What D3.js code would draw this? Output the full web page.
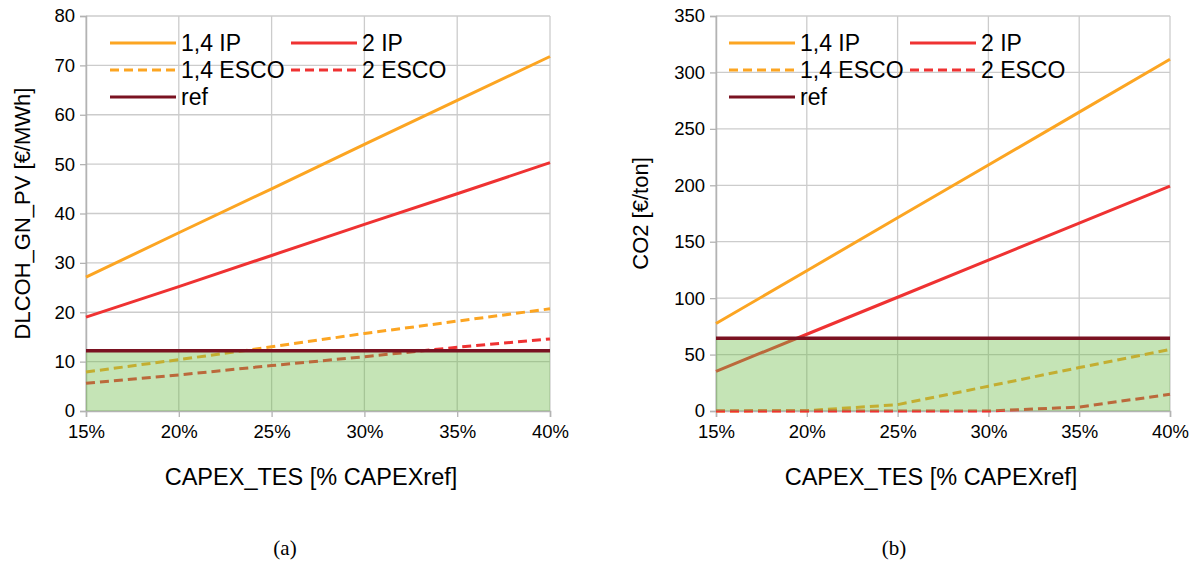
<!DOCTYPE html>
<html>
<head>
<meta charset="utf-8">
<script src="https://cdn.jsdelivr.net/npm/d3@7"></script>
<style>
  body { margin: 0; background: #fff; }
  svg { display: block; }
  text { font-family: "Liberation Sans", Arial, sans-serif; fill: #000; }
</style>
</head>
<body>
<div id="chart"></div>
<script>
// ------------------------------------
// Data
// ------------------------------------
const capexTes = [15, 20, 25, 30, 35, 40];          // % CAPEXref
const xTickLabels = ["15%", "20%", "25%", "30%", "35%", "40%"];
const seriesNames = ["1,4 IP", "2 IP", "1,4 ESCO", "2 ESCO", "ref"];

// panel (a) DLCOH_GN_PV [€/MWh]
const dlcoh14IP   = [27.1, 36.1, 45.0, 54.0, 62.9, 71.8];
const dlcoh2IP    = [19.0, 25.2, 31.5, 37.8, 44.0, 50.3];
const dlcoh14ESCO = [7.9, 10.4, 13.0, 15.7, 18.2, 20.7];
const dlcoh2ESCO  = [5.6, 7.3, 9.2, 11.0, 12.9, 14.6];
const dlcohRef    = [12.2, 12.2, 12.2, 12.2, 12.2, 12.2];
const dlcohTicks  = [0, 10, 20, 30, 40, 50, 60, 70, 80];

// panel (b) CO2 [€/ton]
const co214IP   = [77.5, 124.3, 171.2, 218.0, 264.8, 311.7];
const co22IP    = [35.2, 68.0, 100.8, 133.6, 166.4, 199.2];
const co214ESCO = [0, 0.3, 5.6, 22.0, 38.5, 54.5];
const co22ESCO  = [0, 0, 0, 0, 3.5, 14.8];
const co2Ref    = [64.5, 64.5, 64.5, 64.5, 64.5, 64.5];
const co2Ticks  = [0, 50, 100, 150, 200, 250, 300, 350];

// ------------------------------------
// Styles
// ------------------------------------
const colors = ["#fca522", "#ef3232", "#fca522", "#ef3232", "#7a1221"];
const dashes = [null, null, "9,5", "9,5", null];

const svg = d3.select("#chart")
    .append("svg")
    .attr("width", 1203)
    .attr("height", 562);

drawPanel({
  left: 86, right: 550, top: 16, bottom: 411,
  yMax: 80, yTicks: dlcohTicks,
  series: [dlcoh14IP, dlcoh2IP, dlcoh14ESCO, dlcoh2ESCO, dlcohRef],
  yTitle: "DLCOH_GN_PV [€/MWh]", yTitleX: 22,
  xTitleX: 311,
  legendX: 110,
  caption: "(a)", captionX: 285
});

drawPanel({
  left: 716, right: 1170, top: 16, bottom: 411,
  yMax: 350, yTicks: co2Ticks,
  series: [co214IP, co22IP, co214ESCO, co22ESCO, co2Ref],
  yTitle: "CO2 [€/ton]", yTitleX: 640,
  xTitleX: 931,
  legendX: 729,
  caption: "(b)", captionX: 894
});

// ------------------------------------
// One chart panel
// ------------------------------------
function drawPanel(p) {
  const g = svg.append("g");

  const x = d3.scaleLinear().domain([15, 40]).range([p.left, p.right]);
  const y = d3.scaleLinear().domain([0, p.yMax]).range([p.bottom, p.top]);

  // grid
  g.selectAll("line.hgrid")
      .data(p.yTicks)
      .enter()
      .append("line")
      .attr("x1", p.left).attr("x2", p.right)
      .attr("y1", d => y(d)).attr("y2", d => y(d))
      .attr("stroke", "#cccccc")
      .attr("stroke-width", 1.3);

  g.selectAll("line.vgrid")
      .data(capexTes)
      .enter()
      .append("line")
      .attr("x1", d => x(d)).attr("x2", d => x(d))
      .attr("y1", p.top).attr("y2", p.bottom)
      .attr("stroke", "#cccccc")
      .attr("stroke-width", 1.3);

  // axes
  const yAxis = d3.axisLeft(y).tickValues(p.yTicks).tickSize(6).tickPadding(5);
  const xAxis = d3.axisBottom(x).tickValues(capexTes).tickSize(6).tickPadding(8)
      .tickFormat((d, i) => xTickLabels[i]);

  const ya = g.append("g").attr("transform", `translate(${p.left},0)`).call(yAxis);
  const xa = g.append("g").attr("transform", `translate(0,${p.bottom})`).call(xAxis);
  [ya, xa].forEach(a => {
    a.select(".domain").attr("stroke", "#b3b3b3").attr("stroke-width", 1.5);
    a.selectAll(".tick line").attr("stroke", "#b3b3b3").attr("stroke-width", 1.3);
    a.selectAll(".tick text")
        .style("font-family", "'Liberation Sans', Arial, sans-serif")
        .style("font-size", "18.5px")
        .attr("fill", "#000");
  });

  // series lines (ref drawn last, on top of the green area)
  const line = d3.line()
      .x((d, i) => x(capexTes[i]))
      .y(d => y(d));

  [0, 1, 2, 3].forEach(k => {
    g.append("path")
        .attr("d", line(p.series[k]))
        .attr("fill", "none")
        .attr("stroke", colors[k])
        .attr("stroke-width", 3)
        .attr("stroke-dasharray", dashes[k]);
  });

  // green area below the reference
  const area = d3.area()
      .x((d, i) => x(capexTes[i]))
      .y0(y(0))
      .y1(d => y(d));

  g.append("path")
      .attr("d", area(p.series[4]))
      .attr("fill", "rgb(110,188,72)")
      .attr("fill-opacity", 0.4);

  g.append("path")
      .attr("d", line(p.series[4]))
      .attr("fill", "none")
      .attr("stroke", colors[4])
      .attr("stroke-width", 3.5);

  // legend
  const legendPos = [[0, 43], [181, 43], [0, 70], [181, 70], [0, 97]];
  const lg = g.append("g");
  seriesNames.forEach((name, k) => {
    const lx = p.legendX + legendPos[k][0];
    const ly = legendPos[k][1];
    lg.append("line")
        .attr("x1", lx).attr("x2", lx + 66)
        .attr("y1", ly).attr("y2", ly)
        .attr("stroke", colors[k])
        .attr("stroke-width", 3)
        .attr("stroke-dasharray", dashes[k]);
    lg.append("text")
        .attr("x", lx + 71)
        .attr("y", ly)
        .attr("dy", "0.36em")
        .style("font-size", "23px")
        .text(name);
  });

  // titles
  g.append("text")
      .attr("transform", `translate(${p.yTitleX},${(p.top + p.bottom) / 2}) rotate(-90)`)
      .attr("text-anchor", "middle")
      .attr("dy", "0.36em")
      .style("font-size", "22px")
      .text(p.yTitle);

  g.append("text")
      .attr("x", p.xTitleX)
      .attr("y", 477)
      .attr("text-anchor", "middle")
      .attr("dy", "0.36em")
      .style("font-size", "23.5px")
      .text("CAPEX_TES [% CAPEXref]");

  g.append("text")
      .attr("x", p.captionX)
      .attr("y", 548)
      .attr("text-anchor", "middle")
      .attr("dy", "0.35em")
      .style("font-family", "'Liberation Serif', 'Times New Roman', serif")
      .style("font-size", "21px")
      .text(p.caption);
}
</script>
</body>
</html>
